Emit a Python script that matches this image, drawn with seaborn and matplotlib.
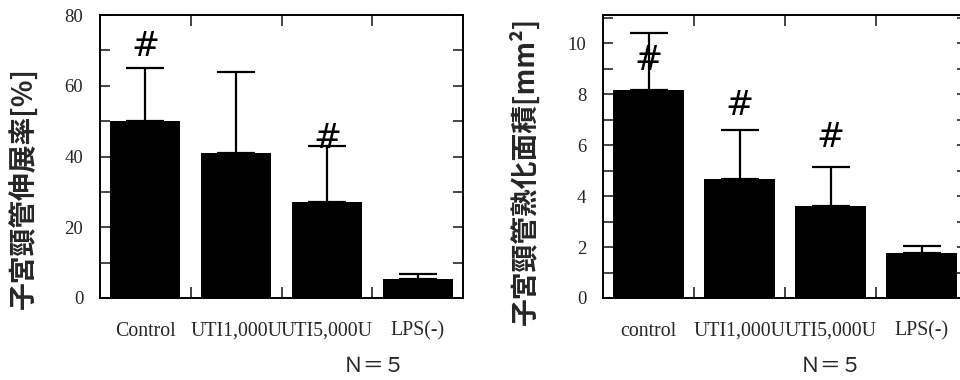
import matplotlib
matplotlib.use("Agg")
import matplotlib.pyplot as plt
import seaborn as sns
import numpy as np
from matplotlib.ticker import MultipleLocator, FixedLocator

# ---- data ----
cats_left = ["Control", "UTI1,000U", "UTI5,000U", "LPS(-)"]
stretch_mean = [50.0, 41.0, 27.0, 5.5]
stretch_sd = [15.0, 23.0, 16.0, 1.3]
stretch_sig = [True, False, True, False]

cats_right = ["control", "UTI1,000U", "UTI5,000U", "LPS(-)"]
area_mean = [8.15, 4.68, 3.59, 1.75]
area_sd = [2.23, 1.92, 1.55, 0.30]
area_sig = [True, True, True, False]

ylabel_left = "子宮頸管伸展率[%]"
ylabel_right = "子宮頸管熟化面積[mm²]"
n_label = "Ｎ＝５"

sns.set_theme(style="ticks")
plt.rcParams["font.family"] = ["Liberation Serif", "DejaVu Serif"]
cjk = ["Noto Sans CJK JP", "DejaVu Sans"]

fig = plt.figure(figsize=(9.6, 3.8), dpi=100)
axL = fig.add_axes([100/960, 1-298/380, 363/960, 283/380])
axR = fig.add_axes([603/960, 1-298/380, 364/960, 283/380])


def draw(ax, cats, mean, sd, sig, ylim, major, minor, sig_y, ylabel, label_x, label_y):
    sns.barplot(x=cats, y=mean, color="black", saturation=1, width=0.77,
                errorbar=None, ax=ax, edgecolor="black", linewidth=0)
    x = np.arange(len(cats))
    ax.errorbar(x, mean, yerr=[np.zeros(len(sd)), sd], fmt="none",
                ecolor="black", elinewidth=1.6, capsize=14, capthick=1.6)
    for xi, s, yy in zip(x, sig, sig_y):
        if s:
            ax.text(xi, yy, "#", ha="center", va="center", fontsize=24,
                    family=["DejaVu Sans"], color="black")
    ax.set_xlim(-0.5, len(cats) - 0.5)
    ax.set_ylim(*ylim)
    ax.yaxis.set_major_locator(MultipleLocator(major))
    ax.yaxis.set_minor_locator(MultipleLocator(minor))
    ax.xaxis.set_minor_locator(FixedLocator([0.5, 1.5, 2.5]))
    ax.tick_params(axis="x", which="major", length=0, pad=17, labelsize=14.3)
    ax.tick_params(axis="x", which="minor", direction="in", length=8, width=1.2,
                   top=True, bottom=True)
    ax.tick_params(axis="y", which="both", direction="in", length=7, width=1.2,
                   left=True, right=True, labelsize=13.5, pad=12)
    for sp in ax.spines.values():
        sp.set_visible(True)
        sp.set_linewidth(1.4)
        sp.set_color("black")
    ax.set_xlabel("")
    ax.set_ylabel(ylabel, fontsize=20, family=cjk, fontweight="bold")
    ax.yaxis.set_label_coords(label_x, label_y)


draw(axL, cats_left, stretch_mean, stretch_sd, stretch_sig, (0, 80), 20, 10,
     [71, 0, 45, 0], ylabel_left, -0.17, 0.39)
draw(axR, cats_right, area_mean, area_sd, area_sig, (0, 11.1), 2, 1,
     [9.3, 7.55, 6.3, 0], ylabel_right, -0.173, 0.45)

fig.text(374/960, 1-366/380, n_label, ha="center", va="center", fontsize=15,
         family=cjk)
fig.text(831/960, 1-366/380, n_label, ha="center", va="center", fontsize=15,
         family=cjk)

fig.savefig("out.png", dpi=100)
